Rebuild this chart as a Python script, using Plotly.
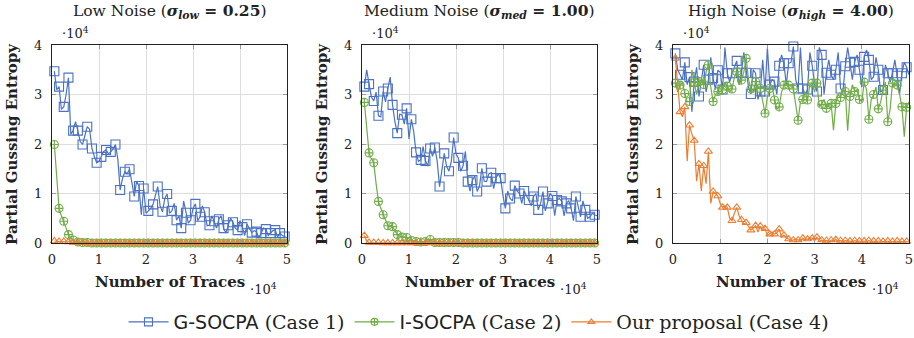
import plotly.graph_objects as go

# ---------------- data (y in units of 10^4, x in units of 10^4 traces) ----------------
# markers are drawn every 1000 traces (500, 1500, ..., 49500); the line also passes
# through the in-between samples (1000, 2000, ..., 50000)
x_marker = [0.05 + 0.1 * k for k in range(50)]
x_mid = [0.1 + 0.1 * k for k in range(50)]

x_ticks = [0, 1, 2, 3, 4, 5]
x_ticktext = ["0", "1", "2", "3", "4", "5"]
y_ticks = [0, 1, 2, 3, 4]
y_ticktext = ["0", "1", "2", "3", "4"]

panel_titles = [
    "Low Noise (<b><i>σ<sub>low</sub></i> = 0.25</b>)",
    "Medium Noise (<b><i>σ<sub>med</sub></i> = 1.00</b>)",
    "High Noise (<b><i>σ<sub>high</sub></i> = 4.00</b>)",
]
series_names = [
    '<span style="font-family:DejaVu Sans">G-SOCPA</span> (Case 1)',
    '<span style="font-family:DejaVu Sans">I-SOCPA</span> (Case 2)',
    "Our proposal (Case 4)",
]

# ---- Low noise ----
low_g_mk = [3.47, 3.16, 2.75, 3.34, 2.27, 2.27, 1.99, 2.35, 1.91, 1.62,
            1.74, 1.88, 1.84, 1.99, 1.07, 1.44, 1.49, 0.94, 1.15, 1.10,
            0.65, 0.78, 1.14, 0.63, 0.99, 0.65, 0.46, 0.30, 0.61, 0.46,
            0.79, 0.53, 0.62, 0.36, 0.44, 0.48, 0.30, 0.36, 0.42, 0.26,
            0.32, 0.38, 0.21, 0.23, 0.20, 0.28, 0.20, 0.26, 0.20, 0.13]
low_g_mid = [3.10, 2.70, 3.00, 2.20, 2.45, 2.05, 2.15, 2.30, 1.75, 1.65,
             1.85, 1.80, 1.90, 1.70, 1.30, 1.40, 1.20, 1.25, 0.57, 0.60,
             0.70, 0.95, 0.75, 0.90, 0.60, 0.80, 0.55, 0.85, 0.40, 0.70,
             0.45, 0.75, 0.35, 0.55, 0.30, 0.55, 0.20, 0.50, 0.30, 0.45,
             0.15, 0.30, 0.25, 0.10, 0.30, 0.15, 0.25, 0.12, 0.15, 0.10]
low_i_mk = [1.99, 0.70, 0.44, 0.17, 0.06, 0.02, 0.01, 0.01, 0.00, 0.00,
            0.00, 0.00, 0.00, 0.00, 0.00, 0.00, 0.00, 0.00, 0.00, 0.00,
            0.00, 0.00, 0.00, 0.00, 0.00, 0.00, 0.00, 0.00, 0.00, 0.00,
            0.00, 0.00, 0.00, 0.00, 0.00, 0.00, 0.00, 0.00, 0.00, 0.00,
            0.00, 0.00, 0.00, 0.00, 0.00, 0.00, 0.00, 0.00, 0.00, 0.00]
low_i_mid = [1.30, 0.55, 0.30, 0.10, 0.03, 0.01, 0.01, 0.00, 0.00, 0.00,
             0.00, 0.00, 0.00, 0.00, 0.00, 0.00, 0.00, 0.00, 0.00, 0.00,
             0.00, 0.00, 0.00, 0.00, 0.00, 0.00, 0.00, 0.00, 0.00, 0.00,
             0.00, 0.00, 0.00, 0.00, 0.00, 0.00, 0.00, 0.00, 0.00, 0.00,
             0.00, 0.00, 0.00, 0.00, 0.00, 0.00, 0.00, 0.00, 0.00, 0.00]
low_o_mk = [0.04, 0.03, 0.03, 0.02, 0.01, 0.01, 0.01, 0.00, 0.00, 0.00,
            0.00, 0.00, 0.00, 0.00, 0.00, 0.00, 0.00, 0.00, 0.00, 0.00,
            0.00, 0.00, 0.00, 0.00, 0.00, 0.00, 0.00, 0.00, 0.00, 0.00,
            0.00, 0.00, 0.00, 0.00, 0.00, 0.00, 0.00, 0.00, 0.00, 0.00,
            0.00, 0.00, 0.00, 0.00, 0.00, 0.00, 0.00, 0.00, 0.00, 0.00]
low_o_mid = [0.03, 0.03, 0.02, 0.02, 0.01, 0.01, 0.00, 0.00, 0.00, 0.00,
             0.00, 0.00, 0.00, 0.00, 0.00, 0.00, 0.00, 0.00, 0.00, 0.00,
             0.00, 0.00, 0.00, 0.00, 0.00, 0.00, 0.00, 0.00, 0.00, 0.00,
             0.00, 0.00, 0.00, 0.00, 0.00, 0.00, 0.00, 0.00, 0.00, 0.00,
             0.00, 0.00, 0.00, 0.00, 0.00, 0.00, 0.00, 0.00, 0.00, 0.00]

# ---- Medium noise ----
med_g_mk = [3.16, 3.21, 2.87, 2.57, 3.06, 3.12, 2.79, 2.22, 2.59, 2.72,
            2.50, 1.83, 1.68, 1.66, 1.91, 1.93, 1.14, 1.81, 1.45, 2.13,
            1.72, 1.56, 1.24, 1.27, 1.04, 1.51, 1.24, 1.42, 1.31, 1.31,
            0.70, 0.90, 1.16, 1.00, 1.05, 0.87, 0.94, 0.67, 1.04, 0.80,
            0.95, 0.87, 0.84, 0.80, 0.70, 0.94, 0.53, 0.67, 0.53, 0.57]
med_g_mid = [3.50, 2.95, 3.05, 2.55, 2.85, 3.35, 2.45, 2.60, 2.40, 2.10,
             2.25, 1.65, 1.95, 1.55, 1.75, 1.65, 1.50, 1.55, 1.65, 1.80,
             1.45, 1.85, 1.05, 1.35, 1.15, 1.25, 1.40, 1.10, 1.40, 0.95,
             1.05, 0.85, 1.05, 0.80, 0.95, 0.75, 1.00, 0.80, 0.65, 1.00,
             0.55, 0.90, 0.55, 0.85, 0.45, 0.70, 0.85, 0.50, 0.60, 0.55]
med_i_mk = [2.84, 1.82, 1.62, 0.84, 0.57, 0.35, 0.33, 0.17, 0.12, 0.11,
            0.05, 0.03, 0.02, 0.03, 0.07, 0.01, 0.01, 0.01, 0.01, 0.01,
            0.01, 0.00, 0.00, 0.00, 0.00, 0.00, 0.00, 0.00, 0.00, 0.00,
            0.00, 0.00, 0.00, 0.00, 0.00, 0.00, 0.00, 0.00, 0.00, 0.00,
            0.00, 0.00, 0.00, 0.00, 0.00, 0.00, 0.00, 0.00, 0.00, 0.00]
med_i_mid = [2.30, 1.70, 1.20, 0.70, 0.45, 0.34, 0.25, 0.14, 0.12, 0.08,
             0.04, 0.02, 0.02, 0.05, 0.04, 0.01, 0.01, 0.01, 0.01, 0.01,
             0.00, 0.00, 0.00, 0.00, 0.00, 0.00, 0.00, 0.00, 0.00, 0.00,
             0.00, 0.00, 0.00, 0.00, 0.00, 0.00, 0.00, 0.00, 0.00, 0.00,
             0.00, 0.00, 0.00, 0.00, 0.00, 0.00, 0.00, 0.00, 0.00, 0.00]
med_o_mk = [0.15, 0.01, 0.01, 0.01, 0.00, 0.00, 0.00, 0.00, 0.00, 0.00,
            0.00, 0.00, 0.00, 0.00, 0.00, 0.00, 0.00, 0.00, 0.00, 0.00,
            0.00, 0.00, 0.00, 0.00, 0.00, 0.00, 0.00, 0.00, 0.00, 0.00,
            0.00, 0.00, 0.00, 0.00, 0.00, 0.00, 0.00, 0.00, 0.00, 0.00,
            0.00, 0.00, 0.00, 0.00, 0.00, 0.00, 0.00, 0.00, 0.00, 0.00]
med_o_mid = [0.04, 0.01, 0.01, 0.00, 0.00, 0.00, 0.00, 0.00, 0.00, 0.00,
             0.00, 0.00, 0.00, 0.00, 0.00, 0.00, 0.00, 0.00, 0.00, 0.00,
             0.00, 0.00, 0.00, 0.00, 0.00, 0.00, 0.00, 0.00, 0.00, 0.00,
             0.00, 0.00, 0.00, 0.00, 0.00, 0.00, 0.00, 0.00, 0.00, 0.00,
             0.00, 0.00, 0.00, 0.00, 0.00, 0.00, 0.00, 0.00, 0.00, 0.00]

# ---- High noise ----
high_g_mk = [3.83, 3.40, 3.65, 3.35, 3.26, 2.96, 3.60, 3.30, 3.33, 3.49,
             3.10, 3.43, 3.43, 3.68, 3.44, 3.44, 3.01, 3.43, 3.06, 3.06,
             3.20, 3.26, 3.58, 3.63, 3.63, 3.97, 3.12, 3.12, 3.10, 3.58,
             3.06, 3.80, 3.44, 3.40, 3.50, 3.12, 3.57, 3.64, 3.66, 3.50,
             3.76, 3.70, 3.36, 3.50, 3.09, 3.43, 3.43, 3.38, 3.43, 3.55]
high_g_mid = [3.50, 3.30, 3.20, 2.65, 3.55, 3.30, 3.05, 3.75, 3.10, 3.45,
              3.95, 3.25, 3.55, 3.20, 3.85, 3.15, 3.50, 2.90, 3.70, 3.95,
              3.30, 3.00, 3.80, 3.20, 3.65, 3.30, 3.95, 3.00, 3.85, 3.20,
              3.95, 3.00, 3.70, 3.30, 3.85, 3.05, 3.95, 3.30, 3.80, 3.15,
              3.90, 3.30, 3.75, 3.05, 3.60, 3.25, 3.70, 3.00, 3.65, 3.40]
high_i_mk = [3.23, 3.19, 3.02, 2.86, 3.24, 3.26, 3.20, 3.60, 2.86, 3.06,
             3.09, 3.17, 3.11, 3.46, 3.29, 3.73, 3.11, 3.26, 3.12, 2.62,
             3.12, 2.89, 2.75, 3.19, 3.19, 3.11, 2.48, 2.90, 2.89, 3.23,
             3.23, 2.80, 2.72, 2.82, 2.82, 2.94, 3.06, 2.96, 3.06, 2.90,
             3.25, 2.50, 3.00, 2.71, 3.09, 2.45, 3.23, 3.19, 2.75, 2.74]
high_i_mid = [3.05, 3.25, 2.85, 3.50, 3.00, 3.30, 3.45, 3.15, 3.00, 3.20,
              3.25, 3.05, 3.35, 3.20, 3.45, 3.30, 3.05, 3.15, 2.85, 2.95,
              3.15, 2.70, 3.05, 3.25, 3.20, 2.75, 2.85, 3.05, 3.20, 3.05,
              2.75, 2.90, 2.80, 2.28, 3.00, 3.10, 2.27, 3.20, 3.10, 2.85,
              3.10, 2.90, 3.15, 2.85, 3.25, 2.70, 3.20, 3.00, 2.15, 2.85]
high_o_mk = [3.73, 2.65, 2.75, 2.38, 2.07, 1.60, 1.56, 1.85, 1.04, 0.95,
             0.72, 0.72, 0.45, 0.72, 0.47, 0.41, 0.26, 0.35, 0.34, 0.29,
             0.18, 0.18, 0.28, 0.16, 0.08, 0.06, 0.06, 0.10, 0.08, 0.10,
             0.12, 0.06, 0.05, 0.06, 0.07, 0.05, 0.05, 0.04, 0.05, 0.04,
             0.04, 0.05, 0.04, 0.04, 0.03, 0.04, 0.03, 0.04, 0.03, 0.03]
high_o_mid = [3.10, 2.55, 1.65, 2.20, 1.25, 1.05, 1.20, 0.80, 1.00, 0.80,
              0.75, 0.50, 0.60, 0.55, 0.38, 0.32, 0.30, 0.22, 0.25, 0.15,
              0.22, 0.20, 0.12, 0.10, 0.05, 0.08, 0.04, 0.06, 0.10, 0.05,
              0.03, 0.04, 0.03, 0.05, 0.03, 0.03, 0.04, 0.03, 0.03, 0.03,
              0.03, 0.03, 0.02, 0.03, 0.03, 0.02, 0.03, 0.02, 0.02, 0.02]

panels = [
    [(low_g_mk, low_g_mid), (low_i_mk, low_i_mid), (low_o_mk, low_o_mid)],
    [(med_g_mk, med_g_mid), (med_i_mk, med_i_mid), (med_o_mk, med_o_mid)],
    [(high_g_mk, high_g_mid), (high_i_mk, high_i_mid), (high_o_mk, high_o_mid)],
]

# ---------------- style ----------------
W, H = 914, 338
colors = ["#4b72c4", "#70ad47", "#ed7d31"]
symbols = ["square-open", "circle-cross-open", "triangle-up-open"]
msizes = [9, 8, 7]
SERIF = "DejaVu Serif"
INK = "#222222"

plot_left = [52, 362, 673]
plot_right = [287, 597, 909]
plot_top, plot_bottom = 45, 243

fig = go.Figure()

for p, series in enumerate(panels):
    xa = "x" if p == 0 else f"x{p + 1}"
    ya = "y" if p == 0 else f"y{p + 1}"
    for s, (mk, mid) in enumerate(series):
        xs, ys = [], []
        for k in range(50):
            xs += [x_marker[k], x_mid[k]]
            ys += [mk[k], mid[k]]
        fig.add_trace(go.Scatter(
            x=xs, y=ys, mode="lines", xaxis=xa, yaxis=ya, showlegend=False,
            line=dict(color=colors[s], width=1.2), cliponaxis=False, hoverinfo="skip"))
        fig.add_trace(go.Scatter(
            x=x_marker, y=mk, mode="markers", xaxis=xa, yaxis=ya, showlegend=False,
            marker=dict(symbol=symbols[s], size=msizes[s], color=colors[s],
                        line=dict(color=colors[s], width=1.1)),
            cliponaxis=False))

# legend-only entries
for s in range(3):
    fig.add_trace(go.Scatter(
        x=[None], y=[None], mode="lines+markers", name=series_names[s],
        line=dict(color=colors[s], width=1.2),
        marker=dict(symbol=symbols[s], size=msizes[s] - 1, color=colors[s],
                    line=dict(color=colors[s], width=1.1))))

axis_common = dict(showgrid=True, gridcolor="#dddddd", gridwidth=1, zeroline=False,
                   showline=True, linecolor=INK, linewidth=1, mirror="ticks",
                   ticks="inside", ticklen=4, tickcolor="#999999",
                   tickfont=dict(family=SERIF, size=13, color=INK))

annotations = []
for p in range(3):
    sfx = "" if p == 0 else str(p + 1)
    x0, x1 = plot_left[p] / W, plot_right[p] / W
    fig.layout[f"xaxis{sfx}"] = dict(
        axis_common, domain=[x0, x1], range=[0, 5], tickvals=x_ticks, ticktext=x_ticktext,
        anchor="y" + sfx, ticklabelstandoff=4)
    fig.layout[f"yaxis{sfx}"] = dict(
        axis_common, domain=[1 - plot_bottom / H, 1 - plot_top / H], range=[0, 4],
        tickvals=y_ticks, ticktext=y_ticktext, anchor="x" + sfx, ticklabelstandoff=6)
    cx = (plot_left[p] + plot_right[p]) / 2 / W
    annotations += [
        dict(text=panel_titles[p], x=cx, y=1 - 12 / H, xref="paper", yref="paper",
             showarrow=False, xanchor="center", yanchor="middle",
             font=dict(family=SERIF, size=15.5, color=INK)),
        dict(text="·10<sup>4</sup>", x=(plot_left[p] + 8) / W, y=1 - 33 / H,
             xref="paper", yref="paper", showarrow=False, xanchor="left", yanchor="middle",
             font=dict(family=SERIF, size=13, color=INK)),
        dict(text="·10<sup>4</sup>", x=(plot_right[p] - 8) / W, y=1 - 289 / H,
             xref="paper", yref="paper", showarrow=False, xanchor="right", yanchor="middle",
             font=dict(family=SERIF, size=13, color=INK)),
        dict(text="<b>Number of Traces</b>", x=(plot_left[p] + 118) / W, y=1 - 282 / H,
             xref="paper", yref="paper", showarrow=False, xanchor="center", yanchor="middle",
             font=dict(family=SERIF, size=15, color=INK)),
        dict(text="<b>Partial Gussing Entropy</b>", x=(plot_left[p] - 40) / W,
             y=1 - 144 / H, xref="paper", yref="paper", showarrow=False, textangle=-90,
             xanchor="center", yanchor="middle",
             font=dict(family=SERIF, size=15, color=INK)),
    ]

fig.update_layout(
    width=W, height=H, paper_bgcolor="white", plot_bgcolor="white",
    margin=dict(l=0, r=0, t=0, b=0, autoexpand=False),
    annotations=annotations,
    legend=dict(orientation="h", x=479 / W, xanchor="center", y=16 / H, yanchor="middle",
                font=dict(family=SERIF, size=19, color=INK),
                bgcolor="rgba(0,0,0,0)", itemwidth=40),
)

fig.write_html("out.html", config={"displayModeBar": False},
               post_script="document.body.style.margin='0';document.body.style.overflow='hidden';")
